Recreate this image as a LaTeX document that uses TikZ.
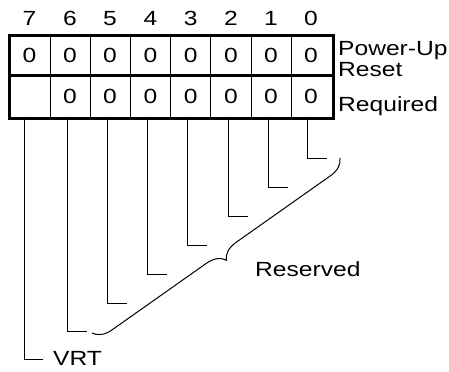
\documentclass[tikz,border=0pt]{standalone}
\usepackage{fontspec}
\setmainfont{Liberation Sans}
\usetikzlibrary{decorations.pathreplacing}
\newcommand\hstretch[1]{\scalebox{1.2}[1]{#1}}
\begin{document}
\begin{tikzpicture}[x=1bp,y=-1bp,
  lbl/.style={inner sep=0pt, anchor=base, font=\fontsize{20.5bp}{20.5bp}\selectfont},
  side/.style={lbl, anchor=base west},
  thickborder/.style={line width=3bp},
  thinrule/.style={line width=1bp},
  leader/.style={line width=1bp}]
\useasboundingbox (0,0) rectangle (449,371);

% register box
\node[draw, thickborder, minimum width=323.5bp, minimum height=83bp, inner sep=0pt, anchor=north west] (reg) at (8,33.5) {};
\draw[thickborder] (8,75.5) -- (331.5,75.5);
\foreach \x in {50,90.2,130.4,170.6,210.8,251,291.2}
  \draw[thinrule] (\x,33.5) -- (\x,116.5);

% headers and values
\foreach \b/\x in {7/29.5,6/70,5/110,4/150.5,3/190.7,2/231,1/271,0/311}{
  \node[lbl] (h\b) at (\x,25) {\hstretch{\b}};
  \node[lbl] (p\b) at (\x,62.5) {\hstretch{0}};
}
\foreach \b/\x in {6/70,5/110,4/150.5,3/190.7,2/231,1/271,0/311}
  \node[lbl] (q\b) at (\x,103.5) {\hstretch{0}};

\node[side] (pu) at (338,55) {\hstretch{Power-Up}};
\node[side] (rs) at (338,76.5) {\hstretch{Reset}};
\node[side] (rq) at (338,111) {\hstretch{Required}};

% leaders
\foreach \b/\x/\y/\l in {0/307/158/20,1/268/187/20,2/228/216/20,3/187/245/20,4/147/274/20,5/107/303/20,6/67/331/20,7/24/359/19}{
  \coordinate (a\b) at (\x,116.5);
  \coordinate (e\b) at (\x+\l,\y);
  \draw[leader] (a\b) |- (e\b);
}

% brace
\coordinate (bs) at (340,158);
\coordinate (be) at (92,333);
\draw[leader, decorate, decoration={brace, amplitude=18bp}] (bs) -- (be);

\node[side] (res) at (255,276) {\hstretch{Reserved}};
\node[side] (vrt) at (53,365) {\hstretch{VRT}};
\end{tikzpicture}
\end{document}
